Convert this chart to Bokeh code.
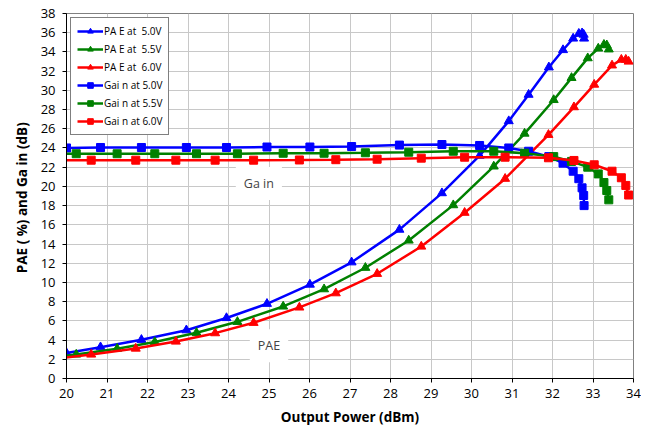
from bokeh.plotting import figure
from bokeh.models import Legend, LegendItem, Label, Range1d, FixedTicker
from bokeh.embed import file_html
from bokeh.resources import INLINE

# ---- data ----
x_50 = [20.00, 20.84, 21.85, 22.96, 23.95, 24.95, 26.01, 27.04, 28.22, 29.27,
        30.20, 30.92, 31.41, 31.91, 32.26, 32.51, 32.65, 32.73, 32.77, 32.78]
pae_50 = [2.65, 3.26, 4.03, 5.03, 6.30, 7.78, 9.78, 12.1, 15.5, 19.3,
          23.2, 26.8, 29.55, 32.4, 34.2, 35.4, 35.9, 35.95, 35.8, 35.4]
gain_50 = [24.0, 24.05, 24.05, 24.05, 24.05, 24.1, 24.1, 24.15, 24.3, 24.36,
           24.26, 24.0, 23.66, 23.1, 22.42, 21.58, 20.8, 19.85, 19.05, 18.0]

x_55 = [19.80, 20.24, 21.25, 22.18, 23.21, 24.22, 25.35, 26.36, 27.38, 28.45, 29.55,
        30.55, 31.31, 32.03, 32.47, 32.87, 33.13, 33.27, 33.34, 33.39]
pae_55 = [2.25, 2.5, 3.1, 3.8, 4.76, 5.9, 7.5, 9.3, 11.53, 14.37, 18.05,
          22.08, 25.5, 29.0, 31.3, 33.35, 34.36, 34.75, 34.7, 34.27]
gain_55 = [23.4, 23.4, 23.4, 23.4, 23.4, 23.4, 23.45, 23.45, 23.5, 23.56, 23.66,
           23.66, 23.46, 23.1, 22.6, 22.0, 21.3, 20.4, 19.57, 18.6]

x_60 = [19.80, 20.61, 21.71, 22.70, 23.67, 24.62, 25.75, 26.65, 27.67, 28.76, 29.83,
        30.83, 31.90, 32.53, 33.03, 33.47, 33.70, 33.81, 33.88]
pae_60 = [2.1, 2.5, 3.12, 3.85, 4.72, 5.8, 7.4, 8.88, 10.9, 13.74, 17.26,
          20.8, 25.37, 28.25, 30.6, 32.6, 33.2, 33.2, 33.0]
gain_60 = [22.73, 22.73, 22.73, 22.73, 22.73, 22.73, 22.75, 22.78, 22.83, 22.94, 23.04,
           23.04, 22.98, 22.7, 22.25, 21.58, 20.9, 20.1, 19.1]

x_ticks = list(range(20, 35))
y_ticks = list(range(0, 39, 2))

legend_labels = ["PA E at  5.0V", "PA E at  5.5V", "PA E at  6.0V",
                 "Gai n at 5.0V", "Gai n at 5.5V", "Gai n at 6.0V"]

FONT = "Open Sans"

p = figure(width=641, height=436, x_range=Range1d(20, 34), y_range=Range1d(0, 38),
           output_backend="svg", toolbar_location=None,
           min_border_left=66, min_border_right=8, min_border_top=13, min_border_bottom=58)

p.outline_line_color = "#808080"
p.outline_line_width = 1
p.background_fill_color = "white"
p.border_fill_color = "white"

p.xaxis.ticker = FixedTicker(ticks=x_ticks)
p.yaxis.ticker = FixedTicker(ticks=y_ticks)
for ax in (p.xaxis[0], p.yaxis[0]):
    ax.minor_tick_line_color = None
    ax.axis_line_color = "black"
    ax.major_tick_line_color = "black"
    ax.major_tick_in = 0
    ax.major_tick_out = 4
    ax.major_label_text_font = FONT
    ax.major_label_text_font_size = "13px"
    ax.major_label_text_color = "black"
    ax.axis_label_text_font = FONT
    ax.axis_label_text_font_size = "13.5px"
    ax.axis_label_text_font_style = "bold"
    ax.axis_label_text_color = "black"

p.xaxis.axis_label = "Output Power (dBm)"
p.yaxis.axis_label = "PAE (  %) and Ga in (dB)"
p.xaxis.major_label_standoff = 6
p.xaxis.axis_label_standoff = 7
p.yaxis.major_label_standoff = 7
p.yaxis.axis_label_standoff = 7

p.grid.grid_line_color = "#c8c8c8"
p.grid.grid_line_width = 1

series = [
    (x_50, pae_50, "#0000FF", "triangle"),
    (x_55, pae_55, "#008000", "triangle"),
    (x_60, pae_60, "#FF0000", "triangle"),
    (x_50, gain_50, "#0000FF", "square"),
    (x_55, gain_55, "#008000", "square"),
    (x_60, gain_60, "#FF0000", "square"),
]

items = []
for (xs, ys, col, mk), lab in zip(series, legend_labels):
    lr = p.line(xs, ys, line_color=col, line_width=2.5)
    sr = p.scatter(xs, ys, marker=mk, size=9 if mk == "triangle" else 8,
                   fill_color=col, line_color=col)
    items.append(LegendItem(label=lab, renderers=[lr, sr]))

legend = Legend(items=items, location="top_left", margin=4)
legend.label_text_font = FONT
legend.label_text_font_size = "10px"
legend.label_text_color = "black"
legend.glyph_width = 26
legend.glyph_height = 14
legend.label_height = 14
legend.spacing = 4
legend.padding = 6
legend.label_standoff = 1
legend.border_line_color = "black"
legend.border_line_width = 1
legend.background_fill_color = "white"
legend.background_fill_alpha = 1
p.add_layout(legend)

p.add_layout(Label(x=24.75, y=20.3, text="Ga in", text_font=FONT, text_font_size="12.5px",
                   text_align="center", text_baseline="middle",
                   background_fill_color="white", padding=8))
p.add_layout(Label(x=25.0, y=3.4, text="PAE", text_font=FONT, text_font_size="12.5px",
                   text_align="center", text_baseline="middle",
                   background_fill_color="white", padding=8))

open("out.html", "w").write(file_html(p, INLINE))
